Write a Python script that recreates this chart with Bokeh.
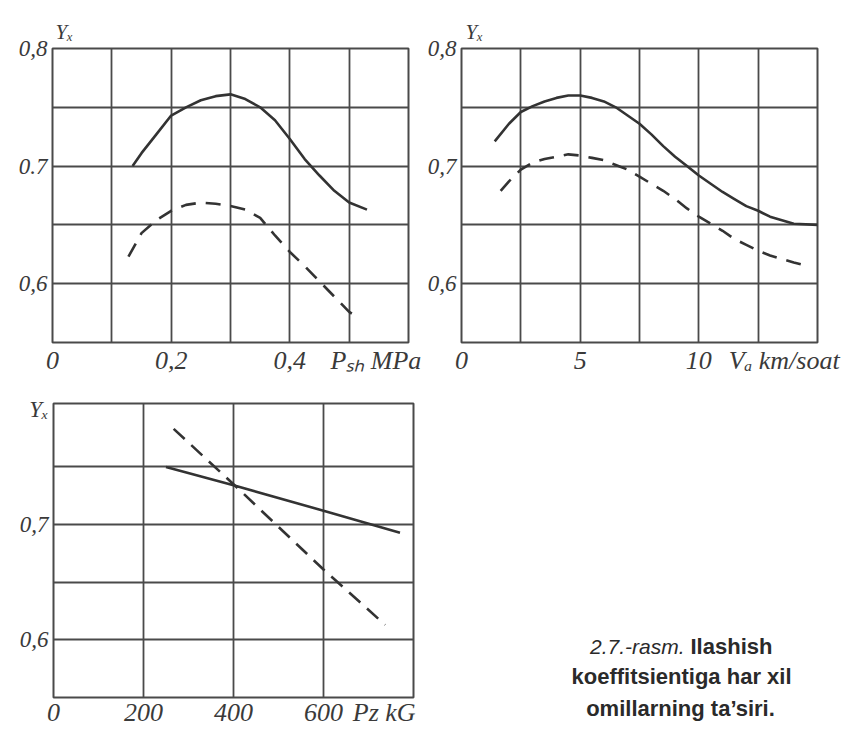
from bokeh.plotting import figure
from bokeh.models import FixedTicker, Label, Range1d, LinearAxis
from bokeh.layouts import column, row
from bokeh.embed import file_html
from bokeh.resources import INLINE

# ---------------- data ----------------
# Panel 1: Y_x vs P_sh (MPa)
p1_solid_x = [0.135, 0.15, 0.175, 0.2, 0.225, 0.25, 0.275, 0.3, 0.325, 0.35, 0.375,
              0.4, 0.425, 0.45, 0.475, 0.5, 0.53]
p1_solid_y = [0.700, 0.711, 0.727, 0.743, 0.750, 0.756, 0.7595, 0.761, 0.757, 0.750, 0.739,
              0.723, 0.706, 0.692, 0.679, 0.669, 0.663]
p1_dash_x = [0.128, 0.15, 0.175, 0.2, 0.225, 0.25, 0.275, 0.3, 0.325, 0.35, 0.375,
             0.4, 0.425, 0.45, 0.475, 0.5, 0.515]
p1_dash_y = [0.623, 0.643, 0.654, 0.662, 0.667, 0.669, 0.668, 0.666, 0.663, 0.656, 0.641,
             0.627, 0.615, 0.602, 0.589, 0.576, 0.571]

# Panel 2: Y_x vs V_a (km/soat)
p2_solid_x = [1.4, 2, 2.5, 3, 3.5, 4, 4.5, 5, 5.5, 6, 6.5, 7, 7.5, 8, 8.5, 9, 9.5, 10,
              10.5, 11, 11.5, 12, 12.5, 13, 13.5, 14, 15]
p2_solid_y = [0.721, 0.736, 0.746, 0.751, 0.755, 0.758, 0.760, 0.760, 0.758, 0.755, 0.750,
              0.743, 0.736, 0.727, 0.717, 0.708, 0.700, 0.692, 0.685, 0.678, 0.672, 0.666,
              0.662, 0.657, 0.654, 0.651, 0.650]
p2_dash_x = [1.65, 2, 2.5, 3, 3.5, 4, 4.5, 5, 5.5, 6, 6.5, 7, 7.5, 8, 8.5, 9, 9.5, 10,
             10.5, 11, 11.5, 12, 12.5, 13, 13.5, 14, 14.6]
p2_dash_y = [0.679, 0.687, 0.697, 0.703, 0.706, 0.708, 0.710, 0.709, 0.707, 0.705, 0.701,
             0.697, 0.691, 0.685, 0.679, 0.672, 0.664, 0.657, 0.651, 0.645, 0.638, 0.633,
             0.628, 0.624, 0.621, 0.618, 0.615]

# Panel 3: Y_x vs P_z (kG)
p3_solid_x = [250, 400, 600, 770]
p3_solid_y = [0.750, 0.734, 0.712, 0.693]
p3_dash_x = [267, 400, 600, 737]
p3_dash_y = [0.783, 0.735, 0.661, 0.613]

# tick labels (axis titles are carried as extra tick labels)
p1_yticks = [0.6, 0.7, 0.8]
p1_ylabels = ["0,6", "0.7", "0,8"]
p1_xticks = [0, 0.2, 0.4, 0.545]
p1_xlabels = ["0", "0,2", "0,4", "P\u209b\u2095 MPa"]
p2_yticks = [0.6, 0.7, 0.8]
p2_ylabels = ["0,6", "0,7", "0,8"]
p2_xticks = [0, 5, 10, 13.6]
p2_xlabels = ["0", "5", "10", "V\u2090 km/soat"]
p3_yticks = [0.6, 0.7, 0.8]
p3_ylabels = ["0,6", "0,7", "Y\u2093"]
p3_xticks = [0, 200, 400, 600, 735]
p3_xlabels = ["0", "200", "400", "600", "Pz kG"]
ylabel_top = "Y\u2093"

caption_1a = "2.7.-rasm."
caption_1b = "Ilashish"
caption_2 = "koeffitsientiga har xil"
caption_3 = "omillarning ta\u2019siri."

# ---------------- style ----------------
INK = "#333333"
GRID = "#4a4a4a"
TXT = "#3a3a3a"
SERIF = "Liberation Serif"
SANS = "Liberation Sans"


def style_axis(ax, size, font=SERIF, fstyle="italic"):
    ax.axis_line_color = None
    ax.major_tick_line_color = None
    ax.minor_tick_line_color = None
    ax.major_tick_out = 0
    ax.major_tick_in = 0
    ax.major_label_text_font = font
    ax.major_label_text_font_style = fstyle
    ax.major_label_text_color = TXT
    ax.major_label_text_font_size = size


def make_panel(w, h, bl, br, bt, bb, xr, yr, xgrid, ygrid, xt, xl, yt, yl, xfs, xstand):
    p = figure(width=w, height=h, x_range=Range1d(*xr), y_range=Range1d(*yr),
               output_backend="svg", toolbar_location=None,
               min_border_left=bl, min_border_right=br,
               min_border_top=bt, min_border_bottom=bb)
    p.title.visible = False
    p.background_fill_color = "white"
    p.border_fill_color = "white"
    p.outline_line_color = GRID
    p.outline_line_width = 2
    p.xgrid.ticker = FixedTicker(ticks=xgrid)
    p.ygrid.ticker = FixedTicker(ticks=ygrid)
    for g in (p.xgrid, p.ygrid):
        g.grid_line_color = GRID
        g.grid_line_width = 1.8
        g.grid_line_alpha = 1.0
    p.xaxis.ticker = FixedTicker(ticks=xt)
    p.xaxis.major_label_overrides = dict(zip(xt, xl))
    p.yaxis.ticker = FixedTicker(ticks=yt)
    p.yaxis.major_label_overrides = dict(zip(yt, yl))
    style_axis(p.xaxis[0], xfs)
    style_axis(p.yaxis[0], "23px")
    p.yaxis.major_label_standoff = 5
    p.xaxis.major_label_standoff = xstand
    return p


def add_top_label(p, xpos, standoff):
    ax = LinearAxis(ticker=FixedTicker(ticks=[xpos]),
                    major_label_overrides={xpos: ylabel_top})
    style_axis(ax, "21px")
    ax.major_label_standoff = standoff
    p.add_layout(ax, "above")


# Panel 1: canvas x 0..424, y 0..390 ; frame 52..408 x 48..342
p1 = make_panel(424, 390, 52, 16, 48, 48, (0, 0.6), (0.55, 0.8),
                [0, 0.1, 0.2, 0.3, 0.4, 0.5, 0.6], [0.55, 0.6, 0.65, 0.7, 0.75, 0.8],
                p1_xticks, p1_xlabels, p1_yticks, p1_ylabels, "26px", 3)
p1.line(p1_solid_x, p1_solid_y, line_color=INK, line_width=2.6)
p1.line(p1_dash_x, p1_dash_y, line_color=INK, line_width=2.6, line_dash="15 10")
add_top_label(p1, 0.02, 5)

# Panel 2: canvas x 424..857, y 0..390 ; frame 459..817 x 48..342
p2 = make_panel(433, 390, 35, 40, 48, 48, (0, 15), (0.55, 0.8),
                [0, 2.5, 5, 7.5, 10, 12.5, 15], [0.55, 0.6, 0.65, 0.7, 0.75, 0.8],
                p2_xticks, p2_xlabels, p2_yticks, p2_ylabels, "26px", 3)
p2.line(p2_solid_x, p2_solid_y, line_color=INK, line_width=2.6)
p2.line(p2_dash_x, p2_dash_y, line_color=INK, line_width=2.6, line_dash="15 10")
add_top_label(p2, 0.54, 5)

# Panel 3: canvas x 0..430, y 390..730 ; frame 53..413 x 403..697
p3 = make_panel(430, 340, 53, 17, 13, 33, (0, 800), (0.55, 0.805),
                [200, 400, 600], [0.6, 0.65, 0.7, 0.75],
                p3_xticks, p3_xlabels, p3_yticks, p3_ylabels, "26px", 0)
p3.line(p3_solid_x, p3_solid_y, line_color=INK, line_width=2.6)
p3.line(p3_dash_x, p3_dash_y, line_color=INK, line_width=2.6, line_dash="15 9")

# Caption panel: canvas x 430..857, y 390..730 ; frame aligned with panel 3
cap = figure(width=427, height=340, x_range=Range1d(0, 427), y_range=Range1d(0, 294),
             output_backend="svg", toolbar_location=None,
             y_axis_location=None,
             min_border_left=0, min_border_right=0, min_border_top=13, min_border_bottom=33)
cap.title.visible = False
cap.outline_line_color = None
cap.xgrid.visible = False
cap.ygrid.visible = False
cap.background_fill_color = "white"
cap.border_fill_color = "white"
# third caption line is carried by the caption panel's bottom axis label
cap.xaxis.ticker = FixedTicker(ticks=[250])
cap.xaxis.major_label_overrides = {250: caption_3}
style_axis(cap.xaxis[0], "22px", font=SANS, fstyle="bold")
cap.xaxis.major_label_text_color = "#2a2a2a"
cap.xaxis.major_label_standoff = -2


def cap_text(px, py, text, style, align, size):
    cap.add_layout(Label(x=px - 430, y=697 - py, text=text, text_font=SANS,
                         text_font_size=size, text_font_style=style,
                         text_color="#2a2a2a", text_align=align,
                         text_baseline="alphabetic"))


cap_text(684, 646, caption_1a, "italic", "right", "21px")
cap_text(690, 646, caption_1b, "bold", "left", "22px")
cap_text(681, 676, caption_2, "bold", "center", "22px")

layout = column(row(p1, p2), row(p3, cap))
open("out.html", "w").write(file_html(layout, INLINE))
